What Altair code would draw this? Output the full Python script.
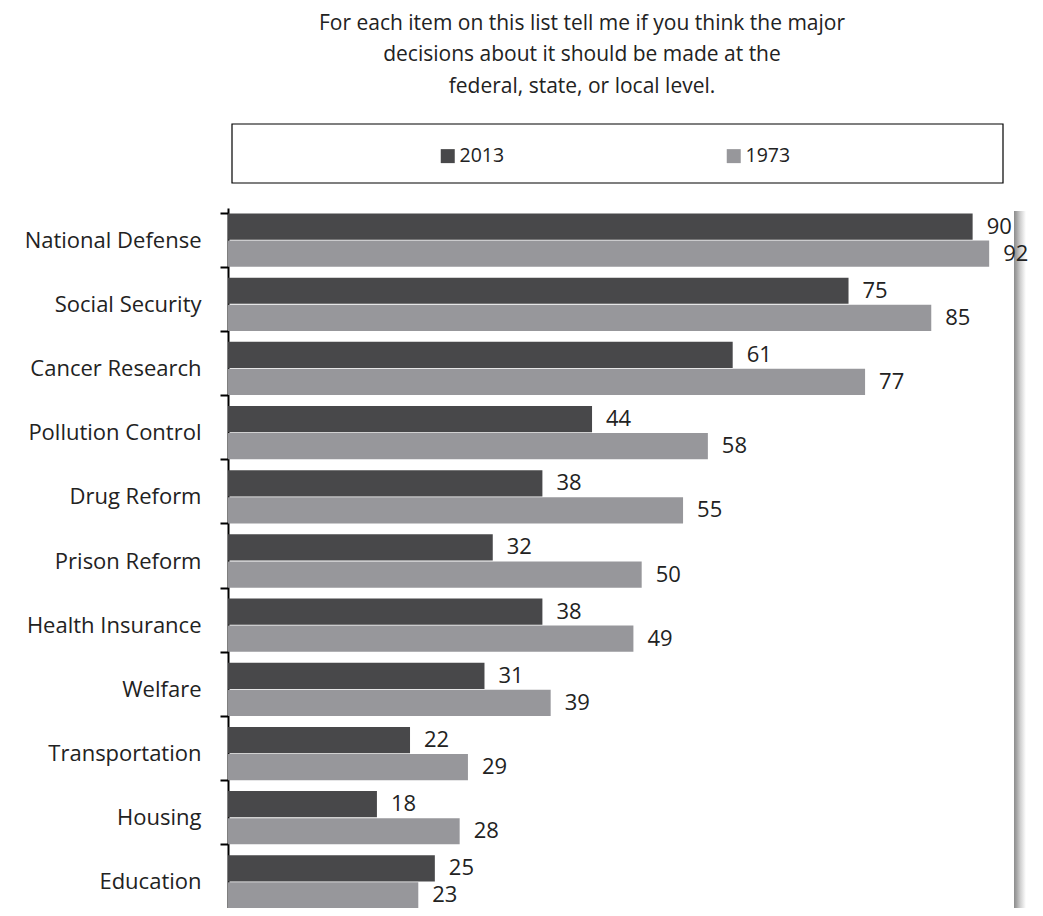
import altair as alt
import pandas as pd

categories = ["National Defense", "Social Security", "Cancer Research", "Pollution Control",
              "Drug Reform", "Prison Reform", "Health Insurance", "Welfare",
              "Transportation", "Housing", "Education"]
v2013 = [90, 75, 61, 44, 38, 32, 38, 31, 22, 18, 25]
v1973 = [92, 85, 77, 58, 55, 50, 49, 39, 29, 28, 23]
series = ["2013", "1973"]
colors = ["#48484a", "#97979b"]
title_lines = ["For each item on this list tell me if you think the major",
               "decisions about it should be made at the",
               "federal, state, or local level."]

rows = []
for c, a, b in zip(categories, v2013, v1973):
    rows.append({"item": c, "year": series[0], "value": a})
    rows.append({"item": c, "year": series[1], "value": b})
df = pd.DataFrame(rows)

W = 786
H = 700
RANGE = 706
FONT = "Open Sans"
TXT = "#222222"

y = alt.Y("item:N", sort=categories, title=None,
          scale=alt.Scale(range=[0, RANGE], paddingInner=0.17, paddingOuter=0.085),
          axis=alt.Axis(domainColor="black", domainWidth=2, tickColor="black", tickWidth=2,
                        tickSize=8, tickBand="extent", labelFont=FONT, labelFontSize=22,
                        labelColor=TXT, labelPadding=19, grid=False))
yo = alt.YOffset("year:N", sort=series, scale=alt.Scale(paddingInner=0.03))
x = alt.X("value:Q", axis=None, scale=alt.Scale(domain=[0, 95]))

base = alt.Chart(df)
bars = base.mark_bar().encode(
    y=y, yOffset=yo, x=x,
    color=alt.Color("year:N", sort=series,
                    scale=alt.Scale(domain=series, range=colors),
                    legend=alt.Legend(orient="none", legendX=210, legendY=-62,
                                      direction="horizontal", title=None,
                                      symbolType="square", symbolSize=196,
                                      symbolStrokeWidth=0, labelFont=FONT,
                                      labelFontSize=19.5, labelColor=TXT,
                                      columnPadding=219, labelOffset=2, padding=0)),
)
labels = base.mark_text(align="left", baseline="middle", dx=14, font=FONT,
                        fontSize=22, color=TXT).encode(y=y, yOffset=yo, x=x, text="value:Q")

one = alt.Data(values=[{"k": 1}])
box = alt.Chart(one).mark_rect(fillOpacity=0, stroke="black", strokeWidth=1.2).encode(
    x=alt.value(4), x2=alt.value(775), y=alt.value(-84), y2=alt.value(-25))
shadow = alt.Chart(one).mark_rect(
    fill=alt.Gradient(gradient="linear",
                      stops=[alt.GradientStop(color="#8c8c8c", offset=0),
                             alt.GradientStop(color="#a2a2a2", offset=0.2),
                             alt.GradientStop(color="#d2d2d2", offset=0.55),
                             alt.GradientStop(color="#ffffff", offset=1)],
                      x1=0, x2=1, y1=0, y2=0)).encode(
    x=alt.value(786), x2=alt.value(798), y=alt.value(3), y2=alt.value(720))

title_layers = []
for i, line in enumerate(title_lines):
    title_layers.append(
        alt.Chart(alt.Data(values=[{"t": line}])).mark_text(
            align="center", baseline="middle", font=FONT, fontSize=21, color=TXT
        ).encode(text="t:N", x=alt.value(354), y=alt.value(-184.5 + 31.5 * i))
    )

chart = alt.layer(shadow, box, bars, labels, *title_layers).properties(
    width=W, height=H,
    autosize=alt.AutoSizeParams(type="none"),
    padding={"left": 220, "top": 200, "right": 18, "bottom": 0},
).configure_view(stroke=None)

chart.save("out.html", embed_options={"renderer": "svg", "actions": False})
